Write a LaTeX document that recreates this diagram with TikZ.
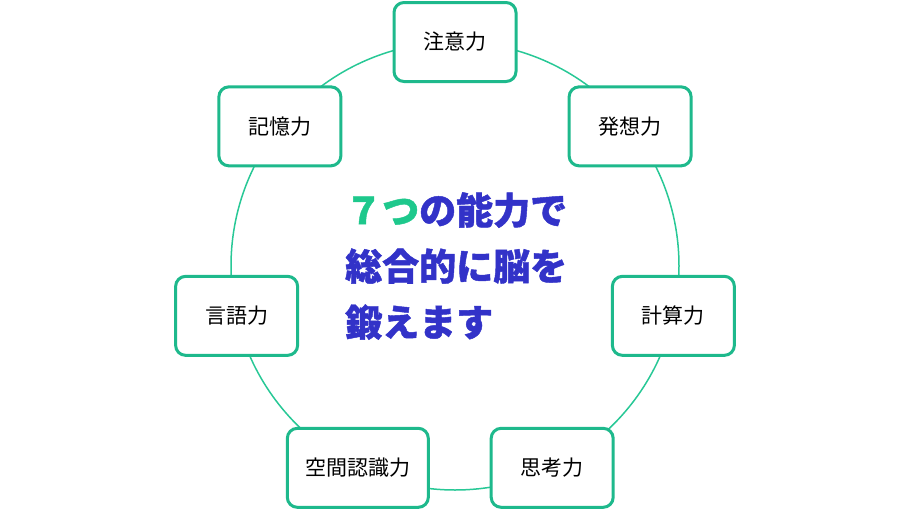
\documentclass[tikz,border=0pt]{standalone}
\usepackage{fontspec}
\newfontfamily\cjk{Noto Sans CJK JP}[BoldFeatures={FakeBold=1.2}]
\usetikzlibrary{positioning}
\definecolor{ringgreen}{RGB}{40,200,150}
\definecolor{boxgreen}{RGB}{30,185,140}
\definecolor{titleblue}{RGB}{50,50,200}
\definecolor{titlegreen}{RGB}{30,200,140}

\begin{document}
\begin{tikzpicture}[x=1pt,y=1pt,
		skill/.style={draw=boxgreen, line width=3pt, rounded corners=10pt, fill=white,
			minimum width=122pt, minimum height=79pt, inner xsep=18pt,
			font=\cjk\fontsize{21}{21}\selectfont},
		title/.style={anchor=west, inner sep=0pt, align=left, text=titleblue,
			font=\cjk\bfseries\fontsize{37}{56}\selectfont}]
		\useasboundingbox (0,0) rectangle (910,-509);
		\coordinate (m) at (455,-266);
		
		\draw[ringgreen, line width=1.5pt] (m) circle[radius=224];
		
		\foreach \name/\txt [count=\i from 0] in {attn/注意力, idea/発想力, calc/計算力, think/思考力, space/空間認識力, lang/言語力, mem/記憶力}{
			\path (m) ++({90-\i*360/7}:224) node[skill] (\name) {\txt};
		}
		
		\node[title] (slogan) at (345,-266) {\textcolor{titlegreen}{７つ}の能力で\\総合的に脳を\\鍛えます};
	\end{tikzpicture}
\end{document}
